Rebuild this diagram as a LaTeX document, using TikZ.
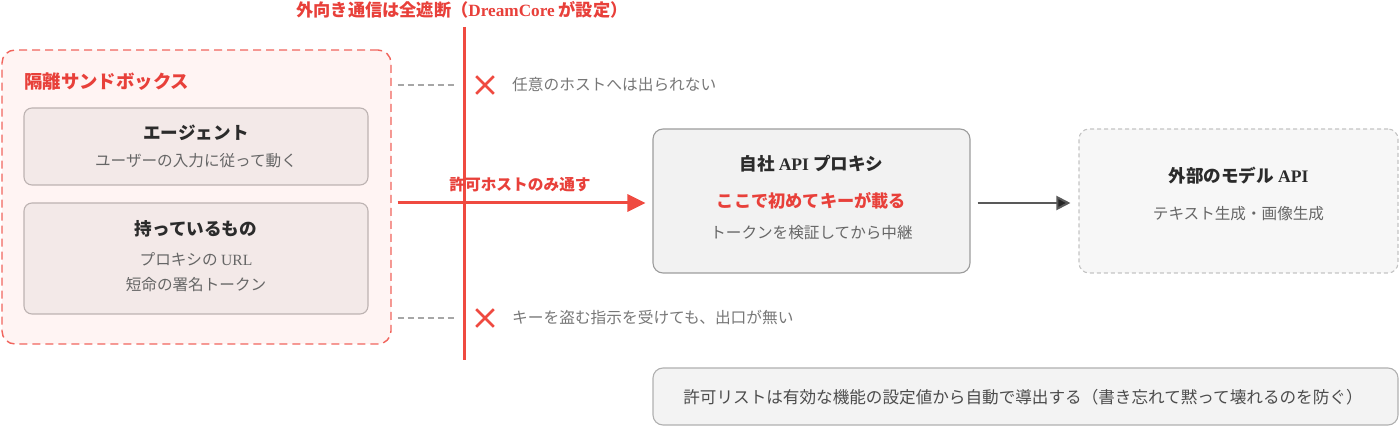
\documentclass[tikz,border=0pt]{standalone}
\usepackage{fontspec}
\setmainfont{Liberation Serif}
\newfontfamily\jp{Noto Sans CJK JP}
\usetikzlibrary{arrows.meta,shapes.misc}
\definecolor{wallred}{HTML}{EF4A40}
\definecolor{txtred}{HTML}{E8403A}
\definecolor{sandfill}{HTML}{FFF4F3}
\definecolor{innerfill}{HTML}{F3E9E8}
\definecolor{innerdraw}{HTML}{BDB3B2}
\definecolor{boxfill}{HTML}{F2F2F2}
\definecolor{boxdraw}{HTML}{9C9C9C}
\definecolor{extfill}{HTML}{F7F7F7}
\definecolor{extdraw}{HTML}{C4C4C4}
\definecolor{titlecol}{HTML}{2B2B2B}
\definecolor{subcol}{HTML}{666666}
\definecolor{notegray}{HTML}{777777}
\tikzset{
  sandbox/.style={draw=wallred!85, fill=sandfill, dash pattern=on 8pt off 5pt, line width=1.4pt, rounded corners=13pt},
  innerbox/.style={draw=innerdraw, fill=innerfill, line width=1.1pt, rounded corners=8pt},
  mainbox/.style={draw=boxdraw, fill=boxfill, line width=1.1pt, rounded corners=10pt},
  extbox/.style={draw=extdraw, fill=extfill, dash pattern=on 4pt off 3pt, line width=1.1pt, rounded corners=10pt},
  notebox/.style={draw=boxdraw!80, fill=boxfill!90!white, line width=1.1pt, rounded corners=10pt},
  ttl/.style={font=\jp\fontsize{17.6}{20}\selectfont\bfseries, text=titlecol, inner sep=0pt},
  sub/.style={font=\jp\fontsize{15.6}{18}\selectfont, text=subcol, inner sep=0pt},
  redlbl/.style={font=\jp\fontsize{17.2}{20}\selectfont\bfseries, text=txtred, inner sep=0pt},
  note/.style={font=\jp\fontsize{15.7}{18}\selectfont, text=notegray, inner sep=0pt},
  xmark/.style={cross out, draw=wallred, line width=2.6pt, minimum size=15pt, inner sep=0pt},
  grayguide/.style={draw=gray!70, dash pattern=on 6pt off 4pt, line width=1.5pt},
  redarrow/.style={draw=wallred, line width=3pt, -{Triangle[length=18pt,width=17pt]}},
  darkarrow/.style={draw=black!65, line width=2pt, -{Triangle[length=14pt,width=14pt,fill=black!85]}},
}
\begin{document}
\begin{tikzpicture}[x=1pt,y=-1pt]
\useasboundingbox (0,0) rectangle (1400,427);
% sandbox
\node[sandbox, minimum width=389pt, minimum height=294pt] (sand) at (196.5,197) {};
\node[redlbl, anchor=west, font=\jp\fontsize{18.4}{21}\selectfont\bfseries] (sandtitle) at (24,82) {隔離サンドボックス};
\node[innerbox, minimum width=344pt, minimum height=77pt] (agent) at (196,146.5) {};
\node[ttl] (agentT) at (196,133) {エージェント};
\node[sub] (agentS) at (196,161) {ユーザーの入力に従って動く};
\node[innerbox, minimum width=344pt, minimum height=111pt] (hold) at (196,258.5) {};
\node[ttl] (holdT) at (196,229) {持っているもの};
\node[sub] (holdS1) at (196,259) {プロキシの {\rmfamily URL}};
\node[sub] (holdS2) at (196,285) {短命の署名トークン};
% wall
\coordinate (wallTop) at (464,27);
\coordinate (wallBot) at (464,360);
\draw[wallred, line width=3pt] (wallTop) -- (wallBot);
\node[redlbl] (walllbl) at (462,10) {外向き通信は全遮断（{\rmfamily DreamCore} が設定）};
% blocked routes
\node[xmark] (x1) at (485,85) {};
\node[note, anchor=west] (x1t) at (512,85) {任意のホストへは出られない};
\node[xmark] (x2) at (485,318) {};
\node[note, anchor=west] (x2t) at (512,318) {キーを盗む指示を受けても、出口が無い};
\draw[grayguide] ([xshift=6pt]sand.east |- x1) -- ([xshift=-9pt]wallTop |- x1);
\draw[grayguide] ([xshift=6pt]sand.east |- x2) -- ([xshift=-9pt]wallTop |- x2);
% proxy
\node[mainbox, minimum width=317pt, minimum height=144pt] (proxy) at (811.5,201) {};
\node[ttl] (proxyT) at (811.5,164) {自社 {\rmfamily API} プロキシ};
\node[redlbl] (proxyR) at (811.5,201) {ここで初めてキーが載る};
\node[sub] (proxyS) at (811.5,233) {トークンを検証してから中継};
% external
\node[extbox, minimum width=319pt, minimum height=144pt] (ext) at (1238.5,201) {};
\node[ttl] (extT) at (1238.5,176) {外部のモデル {\rmfamily API}};
\node[sub] (extS) at (1238.5,214) {テキスト生成・画像生成};
% arrows
\draw[redarrow] ([xshift=6pt,yshift=-2pt]sand.east |- proxy.west) -- ([xshift=-7pt,yshift=-2pt]proxy.west);
\node[redlbl, font=\jp\fontsize{15.7}{18}\selectfont\bfseries] (allowlbl) at (520,184) {許可ホストのみ通す};
\draw[darkarrow] ([xshift=7pt,yshift=-2pt]proxy.east) -- ([xshift=-8pt,yshift=-2pt]ext.west);
% note
\node[notebox, minimum width=745pt, minimum height=57pt] (notebox) at (1025.5,396.5) {};
\node[sub, text=black!70, font=\jp\fontsize{16.6}{19}\selectfont] (notetext) at (1023,397) {許可リストは有効な機能の設定値から自動で導出する（書き忘れて黙って壊れるのを防ぐ）};
\end{tikzpicture}
\end{document}
